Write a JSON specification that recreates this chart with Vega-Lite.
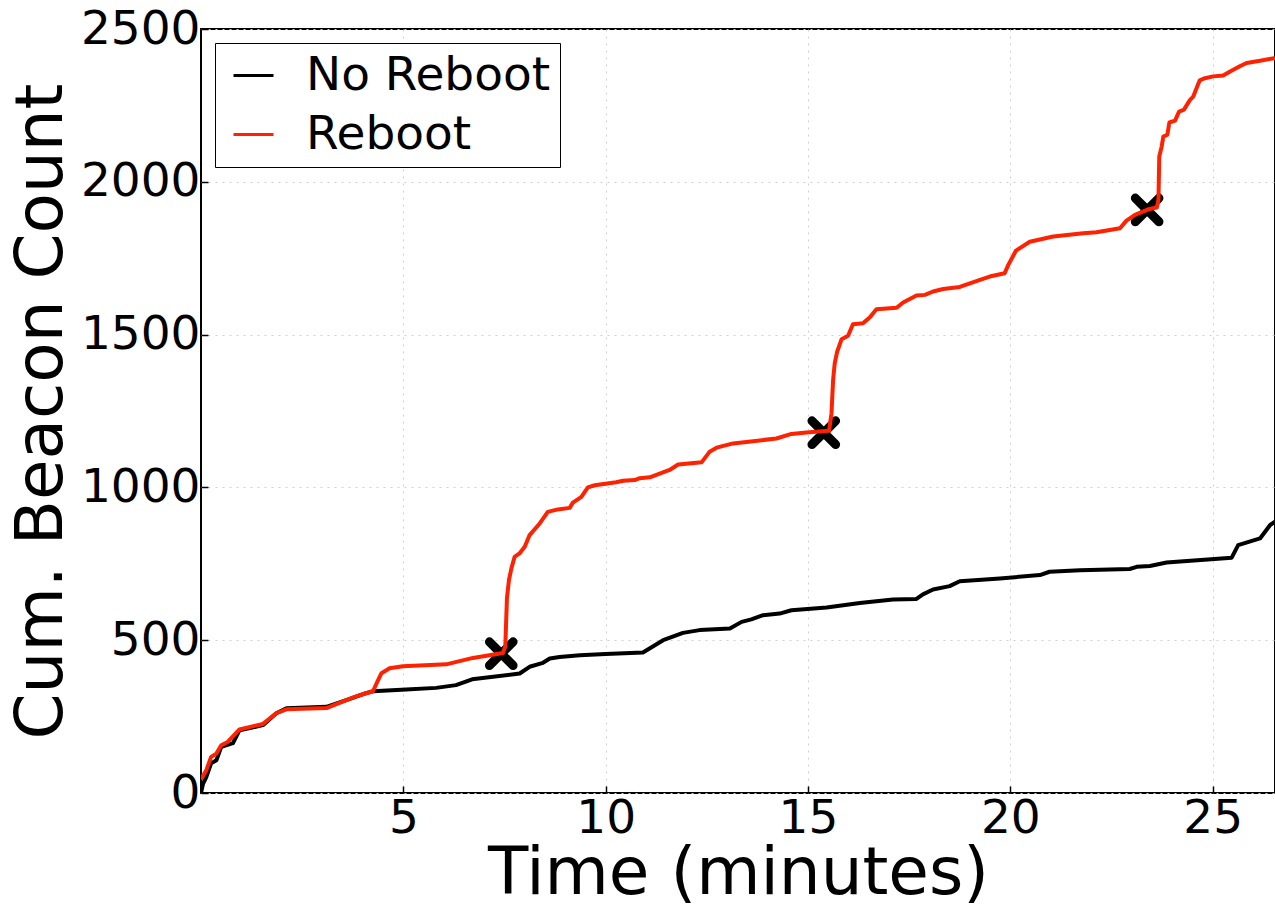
{
  "$schema": "https://vega.github.io/schema/vega-lite/v6.json",
  "width": 1074,
  "height": 764,
  "autosize": {"type": "none"},
  "padding": {"left": 201, "top": 29, "right": 0, "bottom": 115},
  "background": "white",
  "config": {
    "font": "DejaVu Sans",
    "view": {"stroke": "black", "strokeWidth": 2},
    "axis": {
      "domain": false,
      "grid": true,
      "gridColor": "#d0d0d0",
      "gridDash": [2, 5],
      "gridWidth": 1,
      "ticks": true,
      "tickColor": "black",
      "tickWidth": 1.5,
      "tickSize": -7,
      "labelFont": "DejaVu Sans",
      "labelFontSize": 47,
      "labelColor": "black",
      "titleFont": "DejaVu Sans",
      "titleFontSize": 66,
      "titleFontWeight": "normal",
      "titleColor": "black"
    }
  },
  "datasets": {
    "curves": [
      {"series": "No Reboot", "t": 0, "v": 0},
      {"series": "No Reboot", "t": 0.05, "v": 30},
      {"series": "No Reboot", "t": 0.13, "v": 52},
      {"series": "No Reboot", "t": 0.25, "v": 97},
      {"series": "No Reboot", "t": 0.38, "v": 107},
      {"series": "No Reboot", "t": 0.5, "v": 151},
      {"series": "No Reboot", "t": 0.79, "v": 163},
      {"series": "No Reboot", "t": 0.95, "v": 205},
      {"series": "No Reboot", "t": 1.53, "v": 222},
      {"series": "No Reboot", "t": 1.86, "v": 261},
      {"series": "No Reboot", "t": 2.11, "v": 277},
      {"series": "No Reboot", "t": 3.1, "v": 282},
      {"series": "No Reboot", "t": 3.59, "v": 304},
      {"series": "No Reboot", "t": 4.08, "v": 327},
      {"series": "No Reboot", "t": 4.25, "v": 333},
      {"series": "No Reboot", "t": 5.07, "v": 339},
      {"series": "No Reboot", "t": 5.81, "v": 344},
      {"series": "No Reboot", "t": 6.3, "v": 353},
      {"series": "No Reboot", "t": 6.7, "v": 372},
      {"series": "No Reboot", "t": 7.875, "v": 391},
      {"series": "No Reboot", "t": 8.12, "v": 413},
      {"series": "No Reboot", "t": 8.45, "v": 426},
      {"series": "No Reboot", "t": 8.62, "v": 440},
      {"series": "No Reboot", "t": 8.86, "v": 445},
      {"series": "No Reboot", "t": 9.36, "v": 451},
      {"series": "No Reboot", "t": 10.0, "v": 455},
      {"series": "No Reboot", "t": 10.92, "v": 460},
      {"series": "No Reboot", "t": 11.42, "v": 500},
      {"series": "No Reboot", "t": 11.91, "v": 524},
      {"series": "No Reboot", "t": 12.32, "v": 533},
      {"series": "No Reboot", "t": 13.07, "v": 538},
      {"series": "No Reboot", "t": 13.36, "v": 560},
      {"series": "No Reboot", "t": 13.6, "v": 568},
      {"series": "No Reboot", "t": 13.89, "v": 582},
      {"series": "No Reboot", "t": 14.3, "v": 587},
      {"series": "No Reboot", "t": 14.59, "v": 598},
      {"series": "No Reboot", "t": 15.46, "v": 607},
      {"series": "No Reboot", "t": 16.28, "v": 622},
      {"series": "No Reboot", "t": 17.1, "v": 633},
      {"series": "No Reboot", "t": 17.68, "v": 635},
      {"series": "No Reboot", "t": 17.84, "v": 650},
      {"series": "No Reboot", "t": 18.09, "v": 666},
      {"series": "No Reboot", "t": 18.5, "v": 677},
      {"series": "No Reboot", "t": 18.75, "v": 693},
      {"series": "No Reboot", "t": 19.74, "v": 702},
      {"series": "No Reboot", "t": 20.73, "v": 713},
      {"series": "No Reboot", "t": 20.97, "v": 724},
      {"series": "No Reboot", "t": 21.72, "v": 729},
      {"series": "No Reboot", "t": 22.95, "v": 733},
      {"series": "No Reboot", "t": 23.12, "v": 740},
      {"series": "No Reboot", "t": 23.45, "v": 743},
      {"series": "No Reboot", "t": 23.86, "v": 754},
      {"series": "No Reboot", "t": 25.47, "v": 770},
      {"series": "No Reboot", "t": 25.63, "v": 811},
      {"series": "No Reboot", "t": 26.17, "v": 833},
      {"series": "No Reboot", "t": 26.42, "v": 877},
      {"series": "No Reboot", "t": 26.54, "v": 888},
      {"series": "Reboot", "t": 0, "v": 45},
      {"series": "Reboot", "t": 0.13, "v": 74},
      {"series": "Reboot", "t": 0.25, "v": 118},
      {"series": "Reboot", "t": 0.38, "v": 129},
      {"series": "Reboot", "t": 0.5, "v": 156},
      {"series": "Reboot", "t": 0.66, "v": 167},
      {"series": "Reboot", "t": 0.95, "v": 208},
      {"series": "Reboot", "t": 1.53, "v": 226},
      {"series": "Reboot", "t": 1.86, "v": 261},
      {"series": "Reboot", "t": 2.11, "v": 274},
      {"series": "Reboot", "t": 3.1, "v": 278},
      {"series": "Reboot", "t": 3.59, "v": 304},
      {"series": "Reboot", "t": 3.92, "v": 320},
      {"series": "Reboot", "t": 4.25, "v": 333},
      {"series": "Reboot", "t": 4.35, "v": 362},
      {"series": "Reboot", "t": 4.46, "v": 392},
      {"series": "Reboot", "t": 4.66, "v": 408},
      {"series": "Reboot", "t": 4.99, "v": 415},
      {"series": "Reboot", "t": 6.06, "v": 421},
      {"series": "Reboot", "t": 6.72, "v": 442},
      {"series": "Reboot", "t": 7.46, "v": 458},
      {"series": "Reboot", "t": 7.52, "v": 480},
      {"series": "Reboot", "t": 7.56, "v": 637},
      {"series": "Reboot", "t": 7.61, "v": 697},
      {"series": "Reboot", "t": 7.67, "v": 735},
      {"series": "Reboot", "t": 7.75, "v": 773},
      {"series": "Reboot", "t": 7.87, "v": 784},
      {"series": "Reboot", "t": 8.0, "v": 806},
      {"series": "Reboot", "t": 8.12, "v": 844},
      {"series": "Reboot", "t": 8.37, "v": 882},
      {"series": "Reboot", "t": 8.57, "v": 920},
      {"series": "Reboot", "t": 8.82, "v": 928},
      {"series": "Reboot", "t": 9.11, "v": 933},
      {"series": "Reboot", "t": 9.19, "v": 950},
      {"series": "Reboot", "t": 9.4, "v": 969},
      {"series": "Reboot", "t": 9.56, "v": 1000},
      {"series": "Reboot", "t": 9.73, "v": 1007},
      {"series": "Reboot", "t": 10.26, "v": 1017},
      {"series": "Reboot", "t": 10.43, "v": 1022},
      {"series": "Reboot", "t": 10.72, "v": 1024},
      {"series": "Reboot", "t": 10.84, "v": 1030},
      {"series": "Reboot", "t": 11.09, "v": 1033},
      {"series": "Reboot", "t": 11.58, "v": 1057},
      {"series": "Reboot", "t": 11.79, "v": 1075},
      {"series": "Reboot", "t": 12.37, "v": 1082},
      {"series": "Reboot", "t": 12.57, "v": 1117},
      {"series": "Reboot", "t": 12.74, "v": 1130},
      {"series": "Reboot", "t": 13.15, "v": 1144},
      {"series": "Reboot", "t": 14.22, "v": 1160},
      {"series": "Reboot", "t": 14.59, "v": 1175},
      {"series": "Reboot", "t": 14.96, "v": 1180},
      {"series": "Reboot", "t": 15.52, "v": 1185},
      {"series": "Reboot", "t": 15.58, "v": 1242},
      {"series": "Reboot", "t": 15.62, "v": 1351},
      {"series": "Reboot", "t": 15.66, "v": 1406},
      {"series": "Reboot", "t": 15.72, "v": 1444},
      {"series": "Reboot", "t": 15.83, "v": 1485},
      {"series": "Reboot", "t": 15.99, "v": 1496},
      {"series": "Reboot", "t": 16.11, "v": 1534},
      {"series": "Reboot", "t": 16.36, "v": 1537},
      {"series": "Reboot", "t": 16.53, "v": 1557},
      {"series": "Reboot", "t": 16.69, "v": 1583},
      {"series": "Reboot", "t": 17.19, "v": 1588},
      {"series": "Reboot", "t": 17.35, "v": 1605},
      {"series": "Reboot", "t": 17.68, "v": 1628},
      {"series": "Reboot", "t": 17.89, "v": 1630},
      {"series": "Reboot", "t": 18.09, "v": 1641},
      {"series": "Reboot", "t": 18.34, "v": 1649},
      {"series": "Reboot", "t": 18.75, "v": 1656},
      {"series": "Reboot", "t": 19.25, "v": 1679},
      {"series": "Reboot", "t": 19.49, "v": 1690},
      {"series": "Reboot", "t": 19.86, "v": 1701},
      {"series": "Reboot", "t": 19.95, "v": 1728},
      {"series": "Reboot", "t": 20.14, "v": 1775},
      {"series": "Reboot", "t": 20.48, "v": 1804},
      {"series": "Reboot", "t": 21.06, "v": 1821},
      {"series": "Reboot", "t": 21.8, "v": 1832},
      {"series": "Reboot", "t": 22.13, "v": 1835},
      {"series": "Reboot", "t": 22.71, "v": 1848},
      {"series": "Reboot", "t": 22.87, "v": 1873},
      {"series": "Reboot", "t": 23.08, "v": 1892},
      {"series": "Reboot", "t": 23.41, "v": 1910},
      {"series": "Reboot", "t": 23.62, "v": 1916},
      {"series": "Reboot", "t": 23.66, "v": 1941},
      {"series": "Reboot", "t": 23.68, "v": 2083},
      {"series": "Reboot", "t": 23.74, "v": 2116},
      {"series": "Reboot", "t": 23.78, "v": 2148},
      {"series": "Reboot", "t": 23.88, "v": 2154},
      {"series": "Reboot", "t": 23.93, "v": 2194},
      {"series": "Reboot", "t": 24.07, "v": 2200},
      {"series": "Reboot", "t": 24.17, "v": 2230},
      {"series": "Reboot", "t": 24.29, "v": 2236},
      {"series": "Reboot", "t": 24.44, "v": 2268},
      {"series": "Reboot", "t": 24.52, "v": 2279},
      {"series": "Reboot", "t": 24.68, "v": 2332},
      {"series": "Reboot", "t": 24.81, "v": 2339},
      {"series": "Reboot", "t": 25.01, "v": 2345},
      {"series": "Reboot", "t": 25.26, "v": 2348},
      {"series": "Reboot", "t": 25.43, "v": 2361},
      {"series": "Reboot", "t": 25.67, "v": 2378},
      {"series": "Reboot", "t": 25.84, "v": 2389},
      {"series": "Reboot", "t": 26.17, "v": 2396},
      {"series": "Reboot", "t": 26.54, "v": 2405}
    ],
    "reboots": [
      {"t": 7.42, "v": 456},
      {"t": 15.39, "v": 1179},
      {"t": 23.38, "v": 1908}
    ]
  },
  "layer": [
    {
      "data": {"name": "reboots"},
      "mark": {
        "type": "point",
        "shape": "M-1,-1L1,1M-1,1L1,-1",
        "filled": false,
        "stroke": "black",
        "strokeWidth": 9,
        "strokeCap": "round",
        "size": 560,
        "opacity": 1
      },
      "encoding": {
        "x": {"field": "t", "type": "quantitative", "scale": {"domain": [0, 26.54], "nice": false, "zero": false}, "axis": {"values": [5, 10, 15, 20, 25], "title": "Time (minutes)", "labelPadding": 9, "titlePadding": 0}},
        "y": {"field": "v", "type": "quantitative", "scale": {"domain": [0, 2500], "nice": false}, "axis": {"values": [0, 500, 1000, 1500, 2000, 2500], "format": "d", "title": "Cum. Beacon Count", "labelPadding": 8, "titlePadding": 5}}
      }
    },
    {
      "data": {"name": "curves"},
      "mark": {"type": "line", "strokeWidth": 4, "strokeJoin": "round", "clip": true},
      "encoding": {
        "x": {"field": "t", "type": "quantitative"},
        "y": {"field": "v", "type": "quantitative"},
        "color": {
          "field": "series",
          "type": "nominal",
          "scale": {"domain": ["No Reboot", "Reboot"], "range": ["#000000", "#ff2200"]},
          "legend": {
            "title": null,
            "orient": "top-left",
            "offset": 14,
            "fillColor": "white",
            "strokeColor": "black",
            "cornerRadius": 0,
            "padding": 9,
            "labelFont": "DejaVu Sans",
            "labelFontSize": 47,
            "labelColor": "black",
            "labelLimit": 0,
            "labelOffset": 29,
            "symbolType": "stroke",
            "symbolOffset": 6,
            "symbolStrokeWidth": 3,
            "symbolSize": 1600,
            "rowPadding": 11
          }
        }
      }
    }
  ]
}
